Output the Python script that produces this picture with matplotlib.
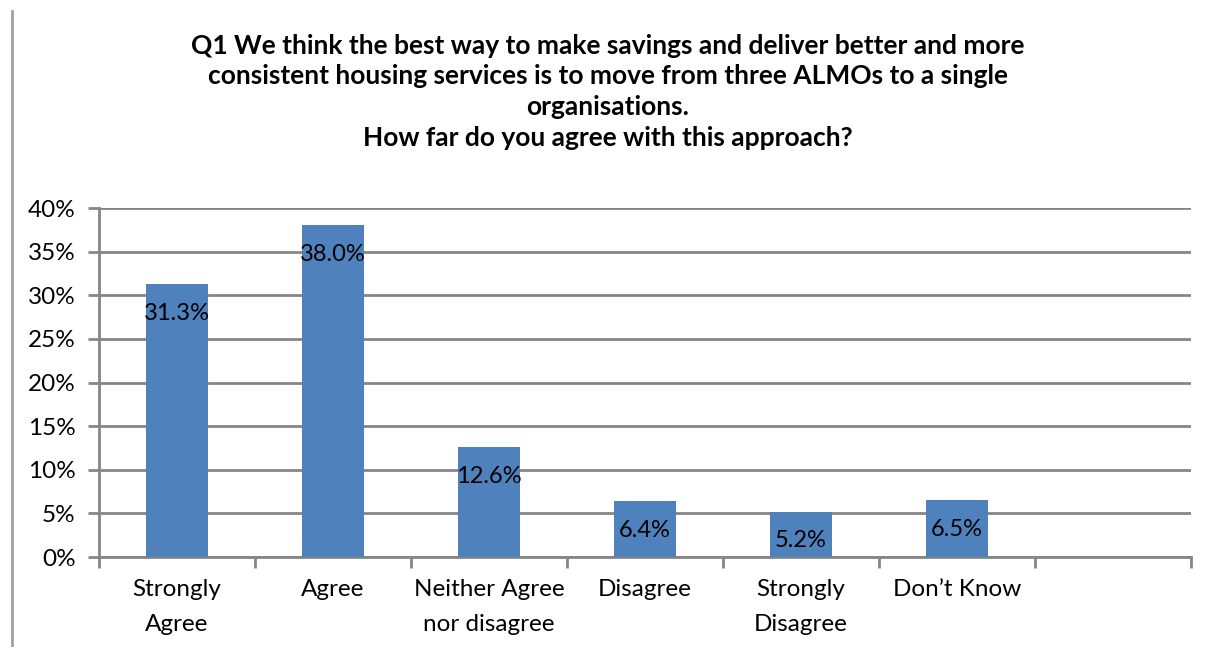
import numpy as np
import matplotlib.pyplot as plt
from matplotlib.lines import Line2D

# survey answers, last slot is empty in the original chart
categories = ['Strongly\nAgree', 'Agree', 'Neither Agree\nnor disagree', 'Disagree',
              'Strongly\nDisagree', 'Don\u2019t Know', '']
values = [31.3, 38.0, 12.6, 6.4, 5.2, 6.5, np.nan]
yticks = [0, 5, 10, 15, 20, 25, 30, 35, 40]

title = ('Q1 We think the best way to make savings and deliver better and more\n'
         'consistent housing services is to move from three ALMOs to a single\n'
         'organisations.\n'
         'How far do you agree with this approach?')

plt.rcParams['font.family'] = ['Lato', 'DejaVu Sans']
bar_col = '#4F81BD'
grid_col = '#868686'

fig = plt.figure(figsize=(12.15, 6.47), dpi=100)
ax = fig.add_axes([0.0815, 0.139, 0.8985, 0.5395])

x = np.arange(len(categories))
ax.bar(x, values, width=0.4, color=bar_col, zorder=3)

for xi, v in zip(x, values):
    if np.isnan(v):
        continue
    ax.annotate('%.1f%%' % v, (xi, v), xytext=(0, -21), textcoords='offset points',
                ha='center', va='center', fontsize=17, color='black', zorder=4)

ax.set_xlim(-0.5, len(categories) - 0.5)
ax.set_ylim(0, 40)
ax.set_yticks(yticks)
ax.set_yticklabels(['%d%%' % t for t in yticks], fontsize=17.5)
ax.yaxis.grid(True, color=grid_col, linewidth=2, zorder=0)

ax.set_xticks(x)
ax.set_xticklabels(categories, fontsize=17.5, linespacing=1.78)
ax.set_xticks(np.arange(-0.5, len(categories)), minor=True)
ax.tick_params(axis='x', which='major', length=0, pad=16)
ax.tick_params(axis='x', which='minor', length=8, width=2, color=grid_col)
ax.tick_params(axis='y', length=8, width=2, color=grid_col, pad=9)

for s in ['top', 'right']:
    ax.spines[s].set_visible(False)
for s in ['left', 'bottom']:
    ax.spines[s].set_color(grid_col)
    ax.spines[s].set_linewidth(2)

fig.text(0.5, 0.948, title, ha='center', va='top', fontsize=19,
         fontweight='bold', linespacing=1.34)

# thin frame line on the left edge of the picture
fig.add_artist(Line2D([0.0095, 0.0095], [0.0, 0.983], color='#A0A0A0', linewidth=2))

fig.savefig('out.png', dpi=100)
